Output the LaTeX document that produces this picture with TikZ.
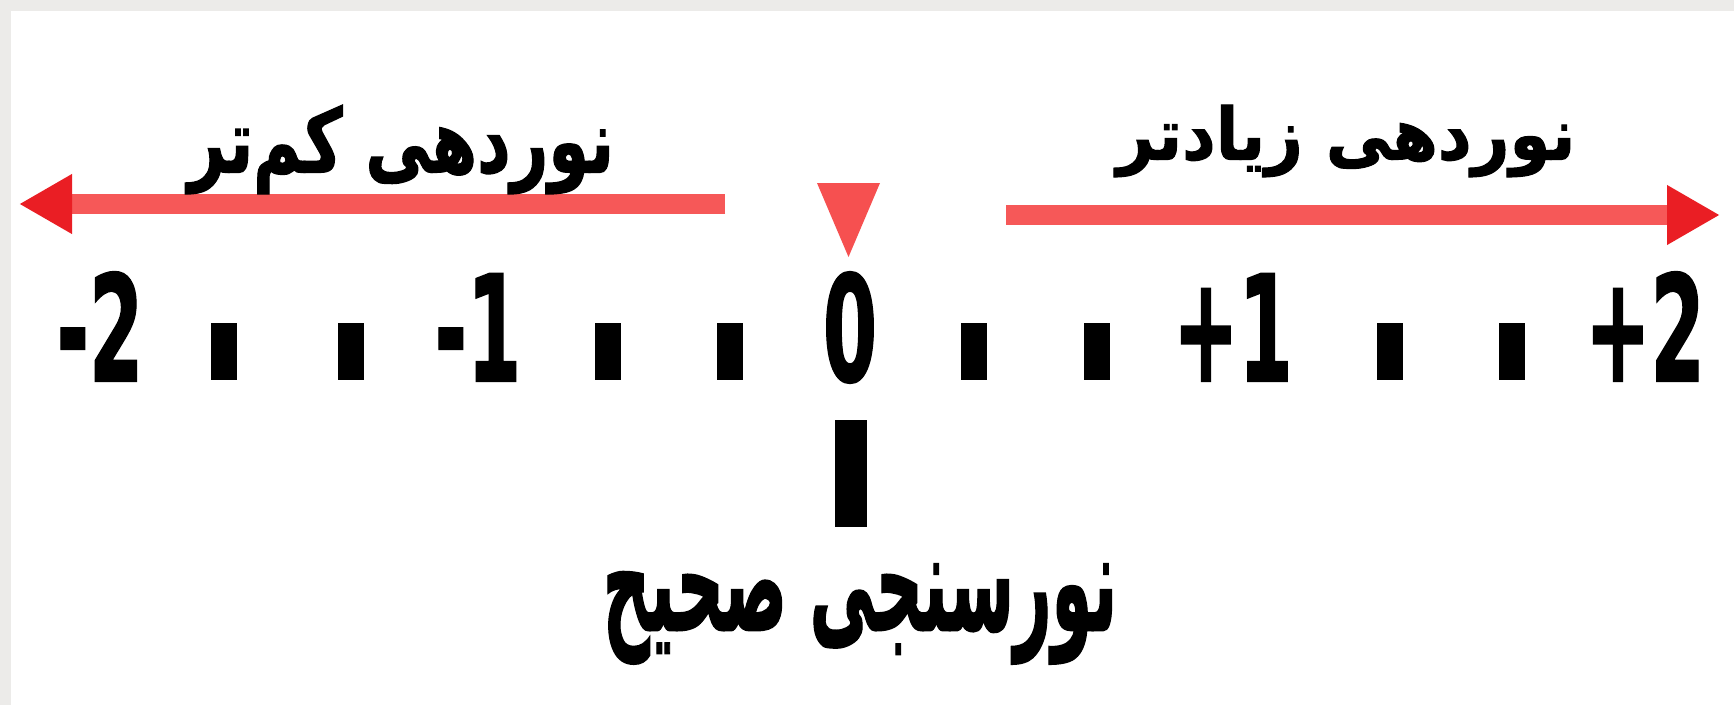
\documentclass[tikz,border=0pt]{standalone}
\usepackage{fontspec}
\usepackage{graphicx}
\usetikzlibrary{arrows.meta}
\TeXXeTstate=1
\newfontfamily\arabicfont[Script=Arabic,BoldFeatures={FakeBold=1.5}]{DejaVu Sans}
\newfontfamily\digitfont[BoldFeatures={FakeBold=1.5}]{DejaVu Sans}
\definecolor{bggray}{RGB}{236,235,233}
\definecolor{shaftred}{RGB}{246,88,88}
\definecolor{headred}{RGB}{234,30,36}
\definecolor{markred}{RGB}{246,80,80}
\newcommand\condnum[1]{\scalebox{0.53}[1]{#1}}
\newcommand\pertxt[3]{\resizebox*{#1}{#2}{\arabicfont\bfseries #3}}
\begin{document}
\begin{tikzpicture}[x=1pt,y=-1pt,
  arrowline/.style={draw=shaftred, line width=20pt, -{Triangle[length=53pt,width=56pt,color=headred]}},
  tickbox/.style={fill=black, minimum width=26pt, minimum height=57pt, inner sep=0pt},
  numlbl/.style={anchor=base, inner sep=0pt, font=\digitfont\bfseries\fontsize{147}{150}\selectfont},
  pernode/.style={inner sep=0pt}]
\fill[bggray] (0,0) rectangle (1734,705);
\fill[white] (11,11) rectangle (1734,705);
\useasboundingbox (0,0) rectangle (1734,705);
% arrows
\coordinate (lstart) at (725,204);
\coordinate (lend) at (19,204);
\coordinate (rstart) at (1006,215);
\coordinate (rend) at (1720,215);
\draw[arrowline] (lstart) -- (lend);
\draw[arrowline] (rstart) -- (rend);
% labels above arrows
\node[pernode] (less) at (401,149.5) {\pertxt{426pt}{89pt}{\beginR نوردهی کم‌تر\endR}};
\node[pernode] (more) at (1346,141) {\pertxt{459pt}{72pt}{\beginR نوردهی زیادتر\endR}};
% marker triangle
\fill[markred] (817,183) -- (880,183) -- (848.5,257) -- cycle;
% ticks
\foreach \x [count=\i] in {224,351,608,730,974,1097,1390,1512}
  \node[tickbox] (t\i) at (\x,351.5) {};
% numbers
\node[numlbl] (nm2) at (100,381) {\condnum{-2}};
\node[numlbl] (nm1) at (478,381) {\condnum{-1}};
\node[numlbl] (n0) at (850,381) {\condnum{0}};
\node[numlbl] (np1) at (1233,381) {\condnum{+1}};
\node[numlbl] (np2) at (1645,381) {\condnum{+2}};
% central bar
\node[fill=black, minimum width=32pt, minimum height=107pt, inner sep=0pt] (bar) at (851,473.5) {};
% bottom label
\node[pernode] (correct) at (860,614) {\pertxt{514pt}{100pt}{\beginR نورسنجی صحیح\endR}};
\end{tikzpicture}
\end{document}
